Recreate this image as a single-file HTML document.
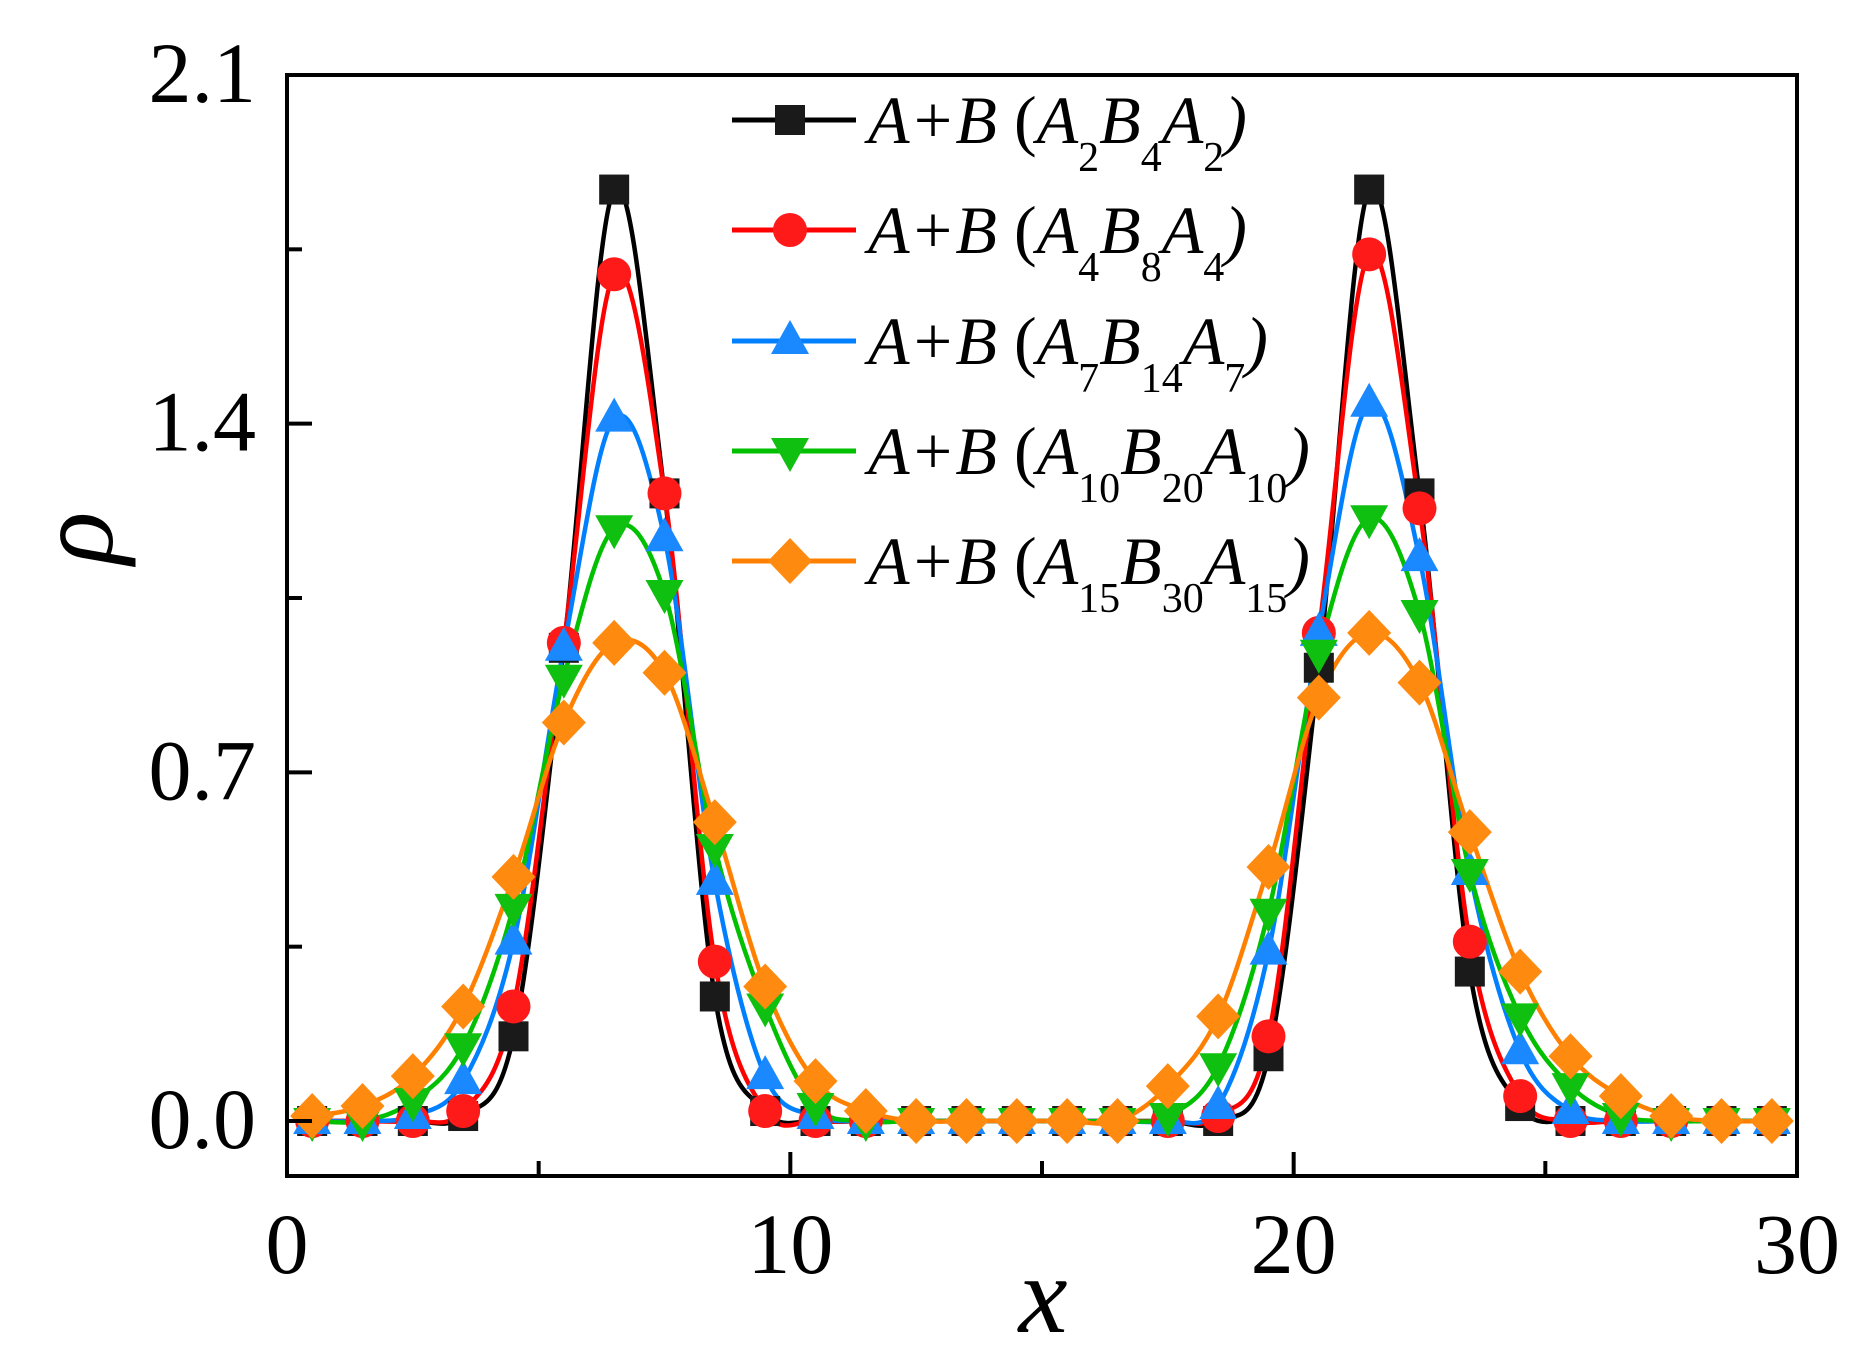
<!DOCTYPE html>
<html><head><meta charset="utf-8"><style>
html,body{margin:0;padding:0;background:#fff;}
svg{display:block;}
text{font-family:"Liberation Serif",serif;fill:#000;}
</style></head><body>
<svg id="chart" width="1866" height="1368" viewBox="0 0 1866 1368" xmlns="http://www.w3.org/2000/svg">
<g id="series-layer"></g>
<g id="axes-layer"></g>
<g id="legend"></g>
</svg>
<script>
const xPoints = [0.5,1.5,2.5,3.5,4.5,5.5,6.5,7.5,8.5,9.5,10.5,11.5,12.5,13.5,14.5,15.5,16.5,17.5,18.5,19.5,20.5,21.5,22.5,23.5,24.5,25.5,26.5,27.5,28.5,29.5];
const seriesA2 = [0,0,0,0.01,0.17,0.95,1.87,1.26,0.25,0.02,0,0,0,0,0,0,0,0,0,0.13,0.91,1.87,1.26,0.30,0.03,0,0,0,0,0];
const seriesA4 = [0,0,0,0.02,0.23,0.96,1.70,1.26,0.32,0.02,0,0,0,0,0,0,0,0,0.01,0.17,0.98,1.74,1.23,0.36,0.05,0,0,0,0,0];
const seriesA7 = [0,0,0.01,0.08,0.36,0.95,1.41,1.17,0.48,0.09,0.01,0,0,0,0,0,0,0,0.03,0.34,0.98,1.44,1.13,0.50,0.14,0.02,0,0,0,0];
const seriesA10 = [0,0,0.04,0.15,0.43,0.89,1.19,1.06,0.55,0.23,0.03,0,0,0,0,0,0,0.01,0.11,0.42,0.94,1.21,1.02,0.50,0.21,0.07,0.01,0,0,0];
const seriesA15 = [0.01,0.03,0.09,0.23,0.49,0.80,0.96,0.90,0.60,0.27,0.08,0.02,0,0,0,0,0,0.07,0.21,0.51,0.85,0.98,0.88,0.58,0.30,0.13,0.05,0.01,0,0];
const xTicks = [0,5,10,15,20,25,30];
const xTickLabels = ["0","","10","","20","","30"];
const yTicks = [0,0.35,0.7,1.05,1.4,1.75,2.1];
const yTickLabels = ["0.0","","0.7","","1.4","","2.1"];
const seriesNames = ["A2B4A2","A4B8A4","A7B14A7","A10B20A10","A15B30A15"];
const seriesSubs = [["2","4","2"],["4","8","4"],["7","14","7"],["10","20","10"],["15","30","15"]];

const NS="http://www.w3.org/2000/svg";
const L=287,R=1797,T=75,B=1176;
const X0=0,X1=30;
const yZero=1121, yTop=75;
function sx(v){return L+(v-X0)/(X1-X0)*(R-L);}
function sy(v){return yZero-(v/2.1)*(yZero-yTop);}
function mk(tag,attrs,parent){const e=document.createElementNS(NS,tag);for(const k in attrs)e.setAttribute(k,attrs[k]);parent.appendChild(e);return e;}

const sLayer=document.getElementById('series-layer');
const aLayer=document.getElementById('axes-layer');
const lg=document.getElementById('legend');
const all=[seriesA2,seriesA4,seriesA7,seriesA10,seriesA15];
const colors=["#000000","#ff0000","#0080ff","#00c000","#ff8000"];
const markerColors=["#1a1a1a","#ff1a1a","#1a88ff","#10c010","#ff8a10"];
const shapes=["square","circle","tri","tridown","diamond"];

function spline(pts){
  let d="M"+pts[0][0]+","+pts[0][1];
  for(let i=0;i<pts.length-1;i++){
    const p0=pts[Math.max(i-1,0)],p1=pts[i],p2=pts[i+1],p3=pts[Math.min(i+2,pts.length-1)];
    const c1=[p1[0]+(p2[0]-p0[0])/6,p1[1]+(p2[1]-p0[1])/6];
    const c2=[p2[0]-(p3[0]-p1[0])/6,p2[1]-(p3[1]-p1[1])/6];
    d+=" C"+c1[0].toFixed(1)+","+c1[1].toFixed(1)+" "+c2[0].toFixed(1)+","+c2[1].toFixed(1)+" "+p2[0].toFixed(1)+","+p2[1].toFixed(1);
  }
  return d;
}
function marker(shape,cx,cy,col,parent){
  let e;
  if(shape==="square") e=mk('rect',{x:cx-15,y:cy-15,width:30,height:30,fill:col},parent);
  else if(shape==="circle") e=mk('circle',{cx:cx,cy:cy,r:17,fill:col},parent);
  else if(shape==="tri") e=mk('polygon',{points:`${cx},${cy-21} ${cx+19},${cy+13} ${cx-19},${cy+13}`,fill:col},parent);
  else if(shape==="tridown") e=mk('polygon',{points:`${cx},${cy+21} ${cx+19},${cy-13} ${cx-19},${cy-13}`,fill:col},parent);
  else e=mk('polygon',{points:`${cx},${cy-23} ${cx+22},${cy} ${cx},${cy+23} ${cx-22},${cy}`,fill:col},parent);
  return e;
}

all.forEach((ser,si)=>{
  const g=mk('g',{},sLayer);
  
  
  const pts=[[sx(0.2),sy(ser[0])]].concat(xPoints.map((x,i)=>[sx(x),sy(ser[i])])).concat([[sx(29.8),sy(ser[ser.length-1])]]);
  const p=mk('path',{d:spline(pts),fill:'none',stroke:colors[si],'stroke-width':4.5},g);
  
  
});
all.forEach((ser,si)=>{
  const g=mk('g',{},sLayer);
  
  
  xPoints.forEach((x,i)=>{
    const m=marker(shapes[si],sx(x),sy(ser[i]),markerColors[si],g);
    
    
  });
});

const frame=mk('rect',{x:L,y:T,width:R-L,height:B-T,fill:'none',stroke:'#000','stroke-width':4},aLayer);


xTicks.forEach((v,i)=>{
  const len=xTickLabels[i]?24:15;
  const t=mk('line',{x1:sx(v),x2:sx(v),y1:B,y2:B-len,stroke:'#000','stroke-width':4},aLayer);
  
  
  if(xTickLabels[i]){
    const tx=mk('text',{x:sx(v),y:1273,'font-size':86,'text-anchor':'middle'},aLayer);
    tx.textContent=xTickLabels[i];
    
    
  }
});
yTicks.forEach((v,i)=>{
  const len=yTickLabels[i]?25:15;
  const t=mk('line',{x1:L,x2:L+len,y1:sy(v),y2:sy(v),stroke:'#000','stroke-width':4},aLayer);
  
  
  if(yTickLabels[i]){
    const tx=mk('text',{x:256,y:sy(v)+27,'font-size':86,'text-anchor':'end'},aLayer);
    tx.textContent=yTickLabels[i];
    
    
  }
});
const xl=mk('text',{x:1043,y:1332,'font-size':110,'font-style':'italic','text-anchor':'middle'},aLayer);
xl.textContent='x';


const yl=mk('text',{x:0,y:0,'font-size':110,'font-style':'italic','text-anchor':'middle',transform:'translate(112,538) rotate(-90)'},aLayer);
yl.textContent='ρ';



const rowsY=[120,230,341,451,561];
seriesNames.forEach((n,si)=>{
  const g=mk('g',{},lg);
  
  
  const y=rowsY[si];
  mk('line',{x1:732,x2:856,y1:y,y2:y,stroke:colors[si],'stroke-width':5},g);
  marker(shapes[si],790,y,markerColors[si],g);
  const t=mk('text',{x:868,y:y+23,'font-size':68,'font-style':'italic'},g);
  const subs=seriesSubs[si];
  const parts=[["A+B",0],[" (",0],["A",0],[subs[0],1],["B",0],[subs[1],1],["A",0],[subs[2],1],[")",0]];
  let down=false;
  parts.forEach(([s,sub])=>{
    const ts=mk('tspan',{},t);
    if(sub){ts.setAttribute('font-size','42');ts.setAttribute('dy','28');ts.setAttribute('font-style','normal');down=true;}
    else if(down){ts.setAttribute('dy','-28');down=false;}
    if(s===" (") ts.setAttribute('font-style','normal');
    ts.textContent=s;
  });
});
</script>
</body></html>
